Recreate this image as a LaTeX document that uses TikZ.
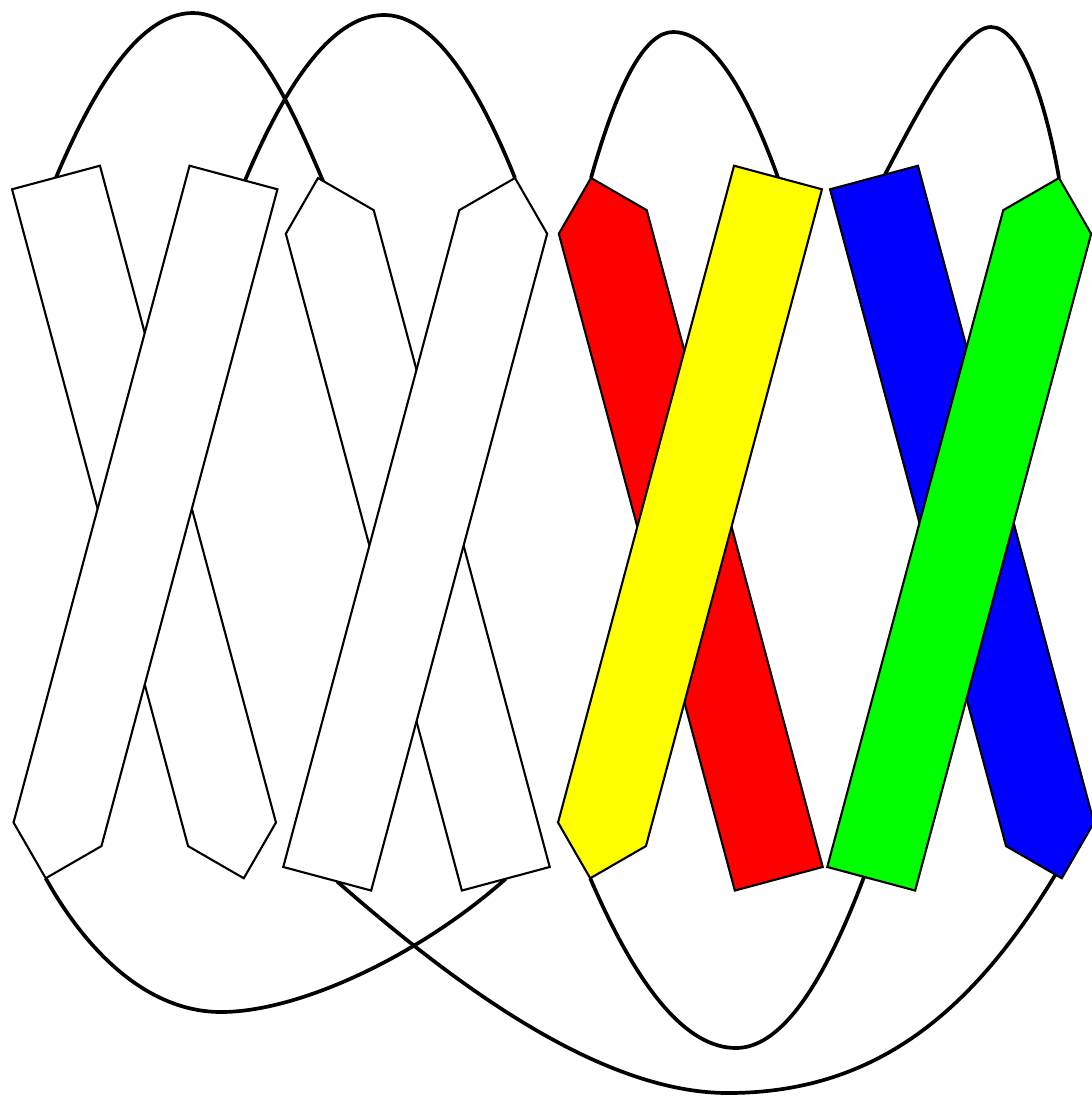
\documentclass[tikz,border=0pt]{standalone}
\definecolor{sred}{RGB}{255,0,0}
\definecolor{syellow}{RGB}{255,255,0}
\definecolor{sblue}{RGB}{0,0,255}
\definecolor{sgreen}{RGB}{0,255,0}
\begin{document}
\begin{tikzpicture}[x=1pt,y=-1pt,
  strand/.style={draw=black, line width=2.1pt, line join=miter},
  loopline/.style={draw=black, line width=3.7pt}]
\useasboundingbox (0,0) rectangle (1092,1096);
% loop end points
\coordinate (Atop) at (56,177.5);
\coordinate (Btop) at (245,180.6);
\coordinate (Ctip) at (323,181);
\coordinate (Cin) at (326,188);
\coordinate (Dtip) at (515,178);
\coordinate (Etip) at (591,178);
\coordinate (Ftop) at (778,177.5);
\coordinate (Gtop) at (885,174.5);
\coordinate (Htip) at (1059,178);
\coordinate (Btip) at (45.72,878.25);
\coordinate (Cbot) at (505.78,878.75);
\coordinate (Dbot) at (337,881.4);
\coordinate (Gtip) at (1057,872);
\coordinate (Ftip) at (590.22,878.25);
\coordinate (Hbot) at (864,876.9);
% loop apexes
\coordinate (p1) at (193,13);
\coordinate (p2) at (384,15);
\coordinate (p3) at (673,32);
\coordinate (p4) at (991,27);
\coordinate (q1) at (221,1012);
\coordinate (q2) at (728,1093);
\coordinate (q3) at (736,1048);
% loops
\draw[loopline] (Atop) .. controls (102.3,67.8) and (147,13) .. (p1) .. controls (250,13) and (292,108) .. (Ctip) -- (Cin);
\draw[loopline] (Btop) .. controls (291.3,70.2) and (337.7,15) .. (p2) .. controls (427.7,15) and (471.3,69.3) .. (Dtip);
\draw[loopline] (Etip) .. controls (618.3,80.7) and (645.7,32) .. (p3) .. controls (708,32) and (743,80.5) .. (Ftop);
\draw[loopline] (Gtop) .. controls (912.9,121.4) and (961,27) .. (p4) .. controls (1021,27) and (1045.1,99.2) .. (Htip);
\draw[loopline] (Btip) .. controls (89.7,957) and (151,1012) .. (q1) .. controls (300,1012) and (420,955) .. (Cbot);
\draw[loopline] (Dbot) .. controls (449.9,980.2) and (598,1093) .. (q2) .. controls (878,1093) and (974.6,1009.1) .. (Gtip);
\draw[loopline] (Ftip) .. controls (638.8,991.4) and (687.4,1048) .. (q3) .. controls (778.7,1048) and (821.3,991.0) .. (Hbot);
% back strands
\path[strand, fill=white] (12.05,189.28) -- (99.95,165.72) -- (275.95,822.52) -- (243.78,878.25) -- (188.05,846.08) -- cycle;
\path[strand, fill=white] (318,178) -- (373.73,210.17) -- (549.73,866.97) -- (461.83,890.53) -- (285.83,233.73) -- cycle;
\path[strand, fill=sred] (591,178) -- (646.73,210.17) -- (822.73,866.97) -- (734.83,890.53) -- (558.83,233.73) -- cycle;
\path[strand, fill=sblue] (830.05,189.28) -- (917.95,165.72) -- (1093.95,822.52) -- (1061.78,878.25) -- (1006.05,846.08) -- cycle;
% front strands
\path[strand, fill=white] (189.55,165.72) -- (277.45,189.28) -- (101.45,846.08) -- (45.72,878.25) -- (13.55,822.52) -- cycle;
\path[strand, fill=white] (515,178) -- (547.17,233.73) -- (371.17,890.53) -- (283.27,866.97) -- (459.27,210.17) -- cycle;
\path[strand, fill=syellow] (734.05,165.72) -- (821.95,189.28) -- (645.95,846.08) -- (590.22,878.25) -- (558.05,822.52) -- cycle;
\path[strand, fill=sgreen] (1059,178) -- (1091.17,233.73) -- (915.17,890.53) -- (827.27,866.97) -- (1003.27,210.17) -- cycle;
\end{tikzpicture}
\end{document}
